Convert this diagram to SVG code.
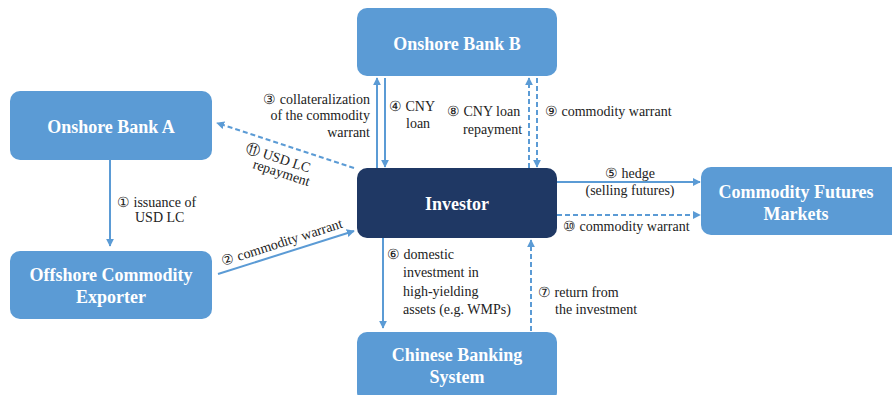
<svg xmlns="http://www.w3.org/2000/svg" width="892" height="395" viewBox="0 0 892 395">
<style>
.box{fill:#5b9bd5}
.inv{fill:#1f3864}
.s{stroke:#5b9bd5;stroke-width:2;fill:none;marker-end:url(#ah)}
.d{stroke:#5b9bd5;stroke-width:2;fill:none;stroke-dasharray:5,3;marker-end:url(#ah)}
</style>
<defs>
<marker id="ah" viewBox="0 0 10 10" refX="9" refY="5" markerWidth="4" markerHeight="4" orient="auto">
<path d="M0,0 L10,5 L0,10 z" fill="#5b9bd5"/>
</marker>
</defs>
<rect width="892" height="395" fill="#fff"/>
<g font-family="Liberation Serif" font-weight="bold" font-size="18" fill="#fff" text-anchor="middle">
<g id="bankA"><rect class="box" x="10" y="91" width="202" height="69" rx="10"/><text x="111" y="133">Onshore Bank A</text></g>
<g id="exporter"><rect class="box" x="10" y="251" width="202" height="68" rx="10"/><text x="111" y="281">Offshore Commodity</text><text x="111" y="303">Exporter</text></g>
<g id="bankB"><rect class="box" x="357" y="8" width="200" height="68" rx="10"/><text x="457" y="50">Onshore Bank B</text></g>
<g id="investor"><rect class="inv" x="357" y="168" width="200" height="70" rx="10"/><text x="457" y="210">Investor</text></g>
<g id="futures"><rect class="box" x="701" y="167" width="200" height="68" rx="10"/><text x="796" y="198">Commodity Futures</text><text x="796" y="220">Markets</text></g>
<g id="chinese"><rect class="box" x="357" y="332" width="200" height="70" rx="10"/><text x="457" y="361">Chinese Banking</text><text x="457" y="383">System</text></g>
</g>
<g id="connectors">
<line class="s" x1="110" y1="160" x2="110" y2="246"/>
<line class="s" x1="218" y1="274" x2="354" y2="231"/>
<line class="d" x1="354" y1="168" x2="217" y2="123"/>
<line class="s" x1="377" y1="168" x2="377" y2="78"/>
<line class="s" x1="385" y1="78" x2="385" y2="167"/>
<line class="d" x1="529" y1="168" x2="529" y2="78"/>
<line class="d" x1="537" y1="78" x2="537" y2="167"/>
<line class="s" x1="557" y1="182" x2="700" y2="182"/>
<line class="d" x1="557" y1="215" x2="700" y2="215"/>
<line class="s" x1="383" y1="238" x2="383" y2="328"/>
<line class="d" x1="531" y1="331" x2="531" y2="240"/>
</g>
<g id="labels" font-family="Liberation Serif" font-size="14" fill="#222">
<text x="117" y="207">① issuance of</text>
<text x="135" y="222">USD LC</text>
<text transform="translate(223,266) rotate(-17.8)">② commodity warrant</text>
<text text-anchor="end" x="370" y="104">③ collateralization</text>
<text text-anchor="end" x="370" y="120">of the commodity</text>
<text text-anchor="end" x="370" y="137">warrant</text>
<text x="389" y="111">④ CNY</text>
<text x="406" y="128">loan</text>
<text x="447" y="116">⑧ CNY loan</text>
<text x="463" y="134">repayment</text>
<text x="545" y="116">⑨ commodity warrant</text>
<text text-anchor="middle" x="630" y="178">⑤ hedge</text>
<text text-anchor="middle" x="630" y="195">(selling futures)</text>
<text x="563" y="231">⑩ commodity warrant</text>
<text transform="translate(245,152) rotate(18)">⑪ USD LC</text>
<text transform="translate(252,168) rotate(18)">repayment</text>
<text x="387" y="259">⑥ domestic</text>
<text x="403" y="277">investment in</text>
<text x="403" y="296">high-yielding</text>
<text x="403" y="314">assets (e.g. WMPs)</text>
<text x="538" y="297">⑦ return from</text>
<text x="555" y="314">the investment</text>
</g>
</svg>
